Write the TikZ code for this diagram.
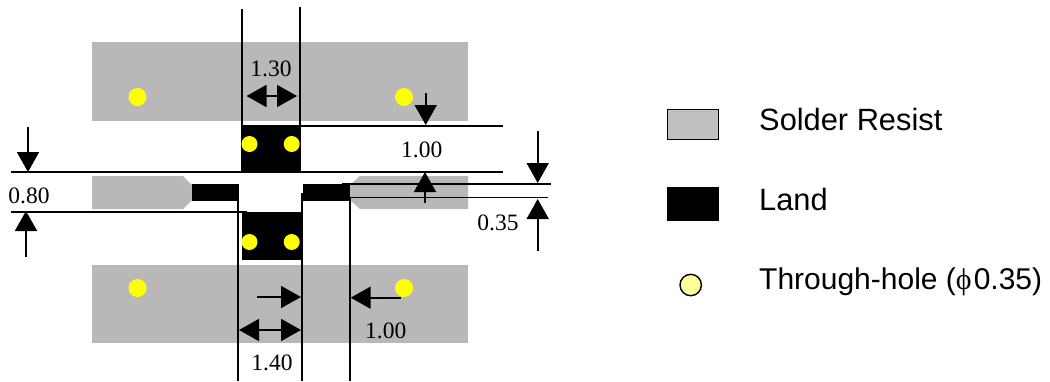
\documentclass[tikz,border=0pt]{standalone}
\usepackage{fontspec}
\setmainfont{Liberation Serif}
\setsansfont{Liberation Sans}
\usetikzlibrary{arrows.meta}
\definecolor{resist}{HTML}{B8B8B8}
\definecolor{resistkey}{HTML}{C0C0C0}
\definecolor{hole}{HTML}{FFFF00}
\definecolor{holekey}{HTML}{FFFF99}
\tikzset{
  x=1pt,y=-1pt,
  resistarea/.style={fill=resist,draw=none},
  landarea/.style={fill=black,draw=none},
  holedot/.style={fill=hole,draw=none},
  extline/.style={draw=black,line width=1.75pt},
  dimarrow/.style={draw=black,line width=1.75pt,-{Triangle[length=20pt,width=22pt]}},
  dimboth/.style={draw=black,line width=1.75pt,{Triangle[length=20pt,width=22pt]}-{Triangle[length=20pt,width=22pt]}},
  dimlabel/.style={font=\fontsize{23.5}{23.5}\selectfont,inner sep=0pt,text=black},
  keylabel/.style={font=\sffamily\fontsize{30.8}{30.8}\selectfont,anchor=base west,inner sep=0pt,text=black},
  keylabelnarrow/.style={keylabel,font=\sffamily\fontsize{30}{30}\selectfont},
}
\begin{document}
\begin{tikzpicture}
\useasboundingbox[fill=white] (0,0) rectangle (1050,381);
% solder resist
\fill[resistarea] (92,42) rectangle (468,121);
\fill[resistarea] (92,265) rectangle (468,343);
\fill[resistarea] (92,176) -- (183,176) -- (192,185) -- (192,200) -- (183,209) -- (92,209) -- cycle;
\fill[resistarea] (468,176) -- (360,176) -- (350,185) -- (350,200) -- (360,209) -- (468,209) -- cycle;
% lands
\fill[landarea] (241,125) rectangle (301,173);
\fill[landarea] (242,212) rectangle (301,260);
\fill[landarea] (192,184) rectangle (239,201);
\fill[landarea] (303,184) rectangle (350,201);
% through holes
\foreach \px/\py in {137.5/97,404/97,137.5/288,404/288}
  \fill[holedot] (\px,\py) circle[radius=9];
\foreach \px/\py in {249.5/144,291.7/144,249.5/242,291.7/242}
  \fill[holedot] (\px,\py) circle[radius=8];
% extension lines
\draw[extline] (241.7,9) -- (241.7,125);
\draw[extline] (299.7,7) -- (299.7,125);
\draw[extline] (299.7,125.7) -- (502.7,125.7);
\draw[extline] (11,172) -- (502.7,172);
\draw[extline] (342,184) -- (550.7,184);
\draw[extline] (350,197.5) -- (548,197.5);
\draw[extline] (11,211.7) -- (246.7,211.7);
\draw[extline] (237.7,197) -- (237.7,381);
\draw[extline] (301.7,193) -- (301.7,381);
\draw[extline] (349.7,197) -- (349.7,381);
% dimension arrows
\draw[dimboth] (246.5,96) -- (297,96);
\draw[dimboth] (239,330) -- (301,330);
\draw[dimarrow] (28,127) -- (28,172);
\draw[dimarrow] (26,257) -- (26,211);
\draw[dimarrow] (425.7,93) -- (425.7,125);
\draw[dimarrow] (425,203) -- (425,172);
\draw[dimarrow] (537.7,131) -- (537.7,183);
\draw[dimarrow] (537.7,251) -- (537.7,199);
\draw[dimarrow] (257,297) -- (301,297);
\draw[dimarrow] (401,297.7) -- (350.7,297.7);
% dimension labels
\node[dimlabel] (d130) at (271,69) {1.30};
\node[dimlabel] (d100a) at (421.7,150) {1.00};
\node[dimlabel] (d080) at (29,196) {0.80};
\node[dimlabel] (d035) at (498,223) {0.35};
\node[dimlabel] (d100b) at (385.7,331) {1.00};
\node[dimlabel] (d140) at (272,363) {1.40};
% legend
\filldraw[fill=resistkey,draw=black,line width=1.4pt] (667.5,109.5) rectangle (718.5,139.5);
\fill[landarea] (667,187) rectangle (719,220.5);
\filldraw[fill=holekey,draw=black,line width=1.4pt] (690.7,285) circle[radius=10.7];
\node[keylabel] (k1) at (759,130) {Solder Resist};
\node[keylabel] (k2) at (759,210) {Land};
\node[keylabelnarrow] (k3) at (759,289) {Through-hole ({\rmfamily ϕ}\hspace{2pt}0.35)};
\end{tikzpicture}
\end{document}
